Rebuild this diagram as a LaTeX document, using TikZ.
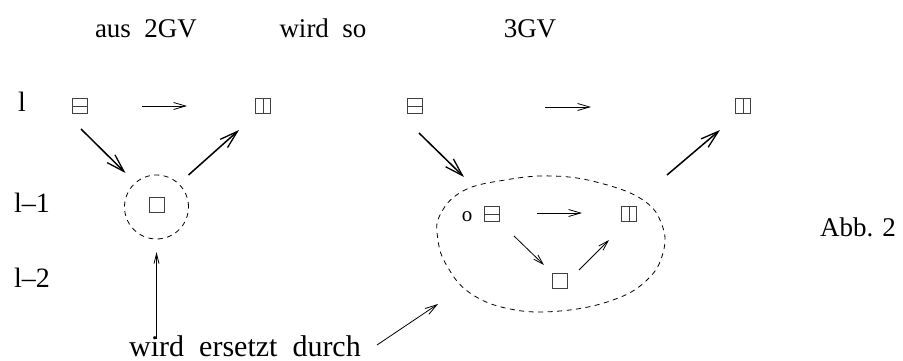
\documentclass[tikz,border=0pt]{standalone}
\usepackage{fontspec}
\setmainfont{Liberation Serif}
\usetikzlibrary{arrows.meta,calc}
\tikzset{
  lbl/.style={inner sep=0pt, font=\fontsize{27}{30}\selectfont},
  sq/.style={draw=black!75, line width=0.8pt, minimum size=15pt, inner sep=0pt},
  hsq/.style={sq, path picture={\draw[black!75, line width=0.8pt] (path picture bounding box.west) -- (path picture bounding box.east);}},
  vsq/.style={sq, path picture={\draw[black!75, line width=0.8pt] (path picture bounding box.north) -- (path picture bounding box.south);}},
  thinarr/.style={line width=0.8pt, -{Straight Barb[length=12pt,width=7pt,line width=0.8pt]}},
  smallarr/.style={line width=0.8pt, -{Straight Barb[length=10pt,width=6pt,line width=0.8pt]}},
  thickarr/.style={line width=1.5pt, -{Straight Barb[length=18pt,width=11pt,line width=1.3pt]}},
  dsh/.style={line width=0.8pt, dash pattern=on 5pt off 4.5pt},
}
\begin{document}
\begin{tikzpicture}[x=1pt,y=-1pt]
\useasboundingbox (0,0) rectangle (903,361);
% texts
\node[lbl, anchor=base] (t1) at (146,38) {aus\ \ 2GV};
\node[lbl, anchor=base] (t2) at (323,38) {wird\ \ so};
\node[lbl, anchor=base] (t3) at (530,38) {3GV};
\node[lbl, anchor=base, font=\fontsize{28}{30}\selectfont] (r1) at (22,112) {l};
\node[lbl, anchor=base, font=\fontsize{28}{30}\selectfont] (r2) at (32,212) {l--1};
\node[lbl, anchor=base, font=\fontsize{28}{30}\selectfont] (r3) at (32,287) {l--2};
\node[lbl, anchor=base] (abb) at (858,236) {Abb. 2};
\node[lbl, anchor=base, font=\fontsize{30}{32}\selectfont] (we) at (245,356) {wird\ \ ersetzt\ \ durch};
% left graph
\node[hsq] (A) at (80,106) {};
\node[vsq] (B) at (263,106) {};
\node[sq] (Cb) at (157,205) {};
\node[dsh, draw, circle, minimum size=64pt, inner sep=0pt] (C) at (156.5,207) {};
\draw[thinarr] ($(A)+(62,0)$) -- ($(B)+(-76,0)$);
\draw[thickarr] ($(A)+(1,23)$) -- ($(C)+(-31,-34)$);
\draw[thickarr] ($(C)+(32,-32)$) -- ($(B)+(-24,24)$);
% right graph
\node[hsq] (D) at (415,106) {};
\node[vsq] (E) at (743,106) {};
\draw[thinarr] ($(D)+(130,1)$) -- ($(E)+(-152,1)$);
\draw[dsh] plot[smooth cycle, tension=0.7] coordinates {(440,215) (463,191) (505,180) (553,176) (600,183) (643,200) (662,225) (663,253) (647,280) (613,300) (560,311) (510,309) (470,293) (447,266) (438,240)};
\coordinate (Etl) at (464,177);
\coordinate (Etr) at (667,175);
\coordinate (Ebl) at (438,304);
\draw[thickarr] ($(D)+(4,27)$) -- (Etl);
\draw[thickarr] (Etr) -- ($(E)+(-23,24)$);
\node[lbl, anchor=base, font=\fontsize{21}{22}\selectfont] (o) at (467,221) {o};
\node[hsq] (F) at (492,214) {};
\node[vsq] (G) at (629,214) {};
\node[sq] (H) at (560,281) {};
\draw[thinarr] ($(F)+(45,-1)$) -- ($(G)+(-47,-1)$);
\draw[smallarr] ($(F)+(22,22)$) -- ($(H)+(-16,-16)$);
\draw[smallarr] ($(H)+(19,-11)$) -- ($(G)+(-20,26)$);
% wird ersetzt durch arrows
\draw[line width=0.8pt, -{Straight Barb[length=10pt,width=5pt,line width=0.8pt]}] ($(C |- we.north)+(0,4)$) -- ($(C)+(0,45)$);
\draw[thinarr] ($(we.north east)+(16,10)$) -- (Ebl);
\end{tikzpicture}
\end{document}
